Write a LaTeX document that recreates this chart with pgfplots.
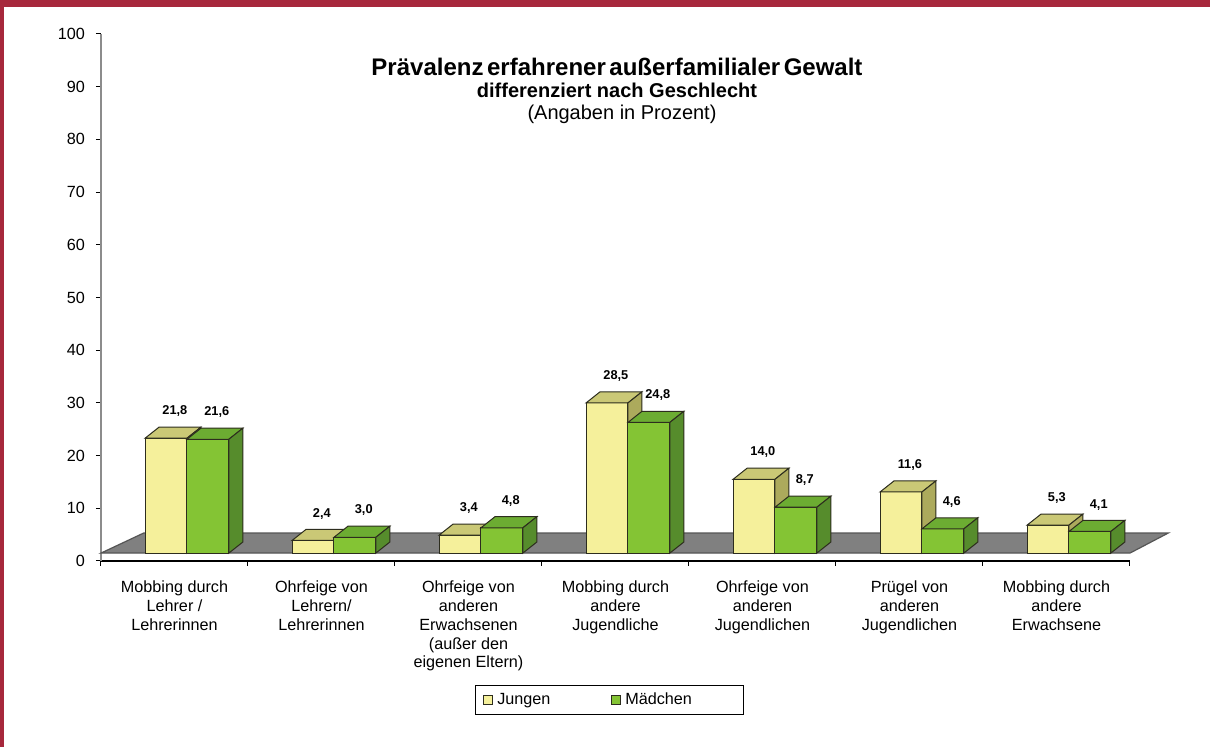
\documentclass[border=0pt]{standalone}
\usepackage{pgfplots}
\pgfplotsset{compat=1.18}
\usepackage{pgfplotstable}
\usepackage{fontspec}
\setmainfont{Liberation Sans}

\definecolor{frame}{RGB}{167,40,60}
\definecolor{jfront}{RGB}{245,240,155}
\definecolor{jtop}{RGB}{202,200,118}
\definecolor{jside}{RGB}{172,170,92}
\definecolor{mfront}{RGB}{132,196,52}
\definecolor{mtop}{RGB}{108,172,50}
\definecolor{mside}{RGB}{86,140,44}
\definecolor{barline}{RGB}{45,45,30}
\definecolor{floorgrey}{RGB}{128,128,128}
\definecolor{flooredge}{RGB}{85,85,85}

\pgfplotstableread{
cat j m
0 21.8 21.6
1 2.4 3.0
2 3.4 4.8
3 28.5 24.8
4 14.0 8.7
5 11.6 4.6
6 5.3 4.1
}\data

\tikzset{valstyle/.style={font=\bfseries\fontsize{6.4}{7}\selectfont}}

% #1 left x of front face, #2 value, #3 front, #4 top, #5 side
\newcommand\threedbar[5]{%
  \pgfmathsetmacro\xa{#1}%
  \pgfmathsetmacro\xb{#1+0.285}%
  \pgfmathsetmacro\xc{#1+0.285+0.095}%
  \pgfmathsetmacro\xd{#1+0.095}%
  \pgfmathsetmacro\yb{1.5+#2}%
  \pgfmathsetmacro\yc{1.5+#2+2.1}%
  \pgfmathsetmacro\xl{#1+0.1425+0.06}%
  \pgfmathsetmacro\yl{#2+6.6}%
  \edef\tmp{%
   \noexpand\filldraw[fill=#3,draw=barline,line width=0.5pt] (axis cs:\xa,1.5) rectangle (axis cs:\xb,\yb);
   \noexpand\filldraw[fill=#4,draw=barline,line width=0.5pt] (axis cs:\xa,\yb) -- (axis cs:\xd,\yc) -- (axis cs:\xc,\yc) -- (axis cs:\xb,\yb) -- cycle;
   \noexpand\filldraw[fill=#5,draw=barline,line width=0.5pt] (axis cs:\xb,1.5) -- (axis cs:\xc,3.6) -- (axis cs:\xc,\yc) -- (axis cs:\xb,\yb) -- cycle;
   \noexpand\node[valstyle] at (axis cs:\xl,\yl) {\noexpand\pgfmathprintnumber[use comma,fixed,fixed zerofill,precision=1]{#2}};
  }\tmp
}

\begin{document}
\begin{tikzpicture}
\path[use as bounding box] (-50.5pt,-93pt) rectangle (554.5pt,280.5pt);
\fill[white] (-50.5pt,-93pt) rectangle (554.5pt,280.5pt);
\fill[frame] (-50.5pt,277pt) rectangle (554.5pt,280.5pt);
\fill[frame] (-50.5pt,-93pt) rectangle (-48.5pt,280.5pt);

\begin{axis}[
  scale only axis, width=514.5pt, height=263.5pt,
  xmin=0, xmax=7, ymin=0, ymax=100,
  clip=false,
  axis lines*=left,
  x axis line style={black, line width=0.6pt},
  y axis line style={draw=black!45, line width=1.2pt},
  tick align=outside,
  major tick length=2.5pt,
  tick style={black, line width=0.5pt},
  ytick={0,10,...,100},
  yticklabel style={font=\fontsize{8.1}{9}\selectfont, xshift=-2pt},
  /pgf/number format/assume math mode=true,
  xtick={0,...,7},
  xticklabels={,,,,,,,},
  extra x ticks={0.5,1.5,2.5,3.5,4.5,5.5,6.5},
  extra x tick labels={{Mobbing durch\\Lehrer /\\Lehrerinnen},{Ohrfeige von\\Lehrern/\\Lehrerinnen},{Ohrfeige von\\anderen\\Erwachsenen\\(außer den\\eigenen Eltern)},{Mobbing durch\\andere\\Jugendliche},{Ohrfeige von\\anderen\\Jugendlichen},{Prügel von\\anderen\\Jugendlichen},{Mobbing durch\\andere\\Erwachsene}},
  extra x tick style={major tick length=0pt},
  xticklabel style={align=center, anchor=north, yshift=-6.5pt, font=\fontsize{8.1}{9.4}\selectfont},
  legend image code/.code={\draw[#1] (0pt,-2.25pt) rectangle (4.5pt,2.25pt);},
  legend columns=2,
  legend style={at={(0.494,-0.264)}, anchor=center, draw=black, line width=0.5pt,
    font=\fontsize{8.1}{9}\selectfont, inner xsep=4pt, inner ysep=1.5pt,
    /tikz/every even column/.append style={column sep=2pt}},
]
\addplot[fill=floorgrey, draw=flooredge, line width=0.6pt, forget plot]
  coordinates {(0,1.5) (7,1.5) (7.26,5.3) (0.29,5.3)} -- cycle;

\pgfplotsinvokeforeach{0,...,6}{%
  \pgfplotstablegetelem{#1}{j}\of\data \let\vj\pgfplotsretval
  \pgfplotstablegetelem{#1}{m}\of\data \let\vm\pgfplotsretval
  \threedbar{#1+0.30}{\vj}{jfront}{jtop}{jside}%
  \threedbar{#1+0.585}{\vm}{mfront}{mtop}{mside}%
}

\addlegendimage{fill=jfront, draw=barline, line width=0.5pt}
\addlegendentry{\makebox[53pt][l]{Jungen}}
\addlegendimage{fill=mfront, draw=barline, line width=0.5pt}
\addlegendentry{\makebox[53pt][l]{Mädchen}}
\end{axis}

\node[font=\bfseries\fontsize{12}{13}\selectfont] at (258pt,247pt) {Prävalenz\hspace{0.15em}erfahrener\hspace{0.15em}außerfamilialer\hspace{0.15em}Gewalt};
\node[font=\bfseries\fontsize{10}{11}\selectfont] at (258pt,235.5pt) {differenziert nach Geschlecht};
\node[font=\fontsize{10}{11}\selectfont] at (260.5pt,223.5pt) {(Angaben in Prozent)};
\end{tikzpicture}
\end{document}
